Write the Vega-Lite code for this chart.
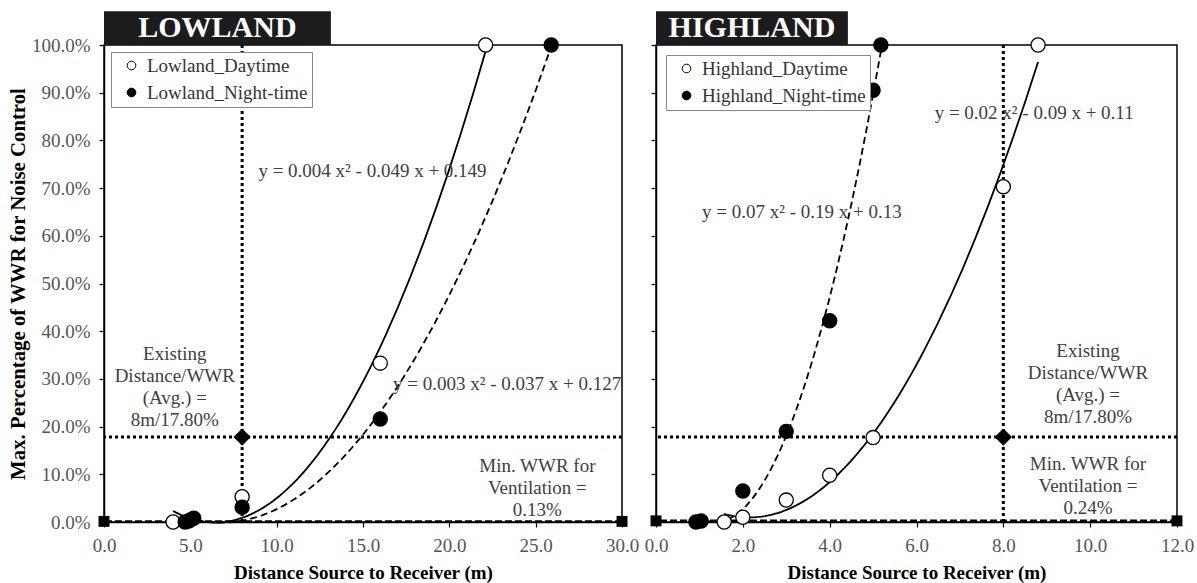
{
  "$schema": "https://vega.github.io/schema/vega-lite/v6.json",
  "background": "white",
  "padding": {"left": 6, "top": 10, "right": 5, "bottom": 5},
  "config": {
    "font": "Liberation Serif",
    "view": {"stroke": "#000", "strokeWidth": 1.5},
    "axis": {
      "labelFont": "Liberation Serif", "labelFontSize": 19, "labelColor": "#555", "labelFlush": false,
      "titleFont": "Liberation Serif", "titleFontSize": 19, "titleFontWeight": "bold", "titleColor": "#000",
      "domainColor": "#000", "domainWidth": 1.5, "tickColor": "#000", "tickWidth": 1.2, "tickSize": 5,
      "labelPadding": 9, "grid": false
    },
    "legend": {
      "labelFont": "Liberation Serif", "labelFontSize": 19, "labelColor": "#333", "labelLimit": 400,
      "strokeColor": "#888", "fillColor": "#fff", "padding": 4, "rowPadding": 7,
      "symbolOffset": 7, "labelOffset": 6,
      "symbolSize": 75, "symbolType": "circle", "symbolStrokeColor": "#000", "symbolStrokeWidth": 1
    }
  },
  "datasets": {
    "lowland": [
      {"x": 4.0, "y": 0.0, "series": "Lowland_Daytime"},
      {"x": 8.0, "y": 0.053, "series": "Lowland_Daytime"},
      {"x": 16.0, "y": 0.333, "series": "Lowland_Daytime"},
      {"x": 22.1, "y": 1.0, "series": "Lowland_Daytime"},
      {"x": 4.7, "y": 0.0, "series": "Lowland_Night-time"},
      {"x": 4.9, "y": 0.002, "series": "Lowland_Night-time"},
      {"x": 5.0, "y": 0.004, "series": "Lowland_Night-time"},
      {"x": 5.2, "y": 0.008, "series": "Lowland_Night-time"},
      {"x": 8.0, "y": 0.031, "series": "Lowland_Night-time"},
      {"x": 16.0, "y": 0.216, "series": "Lowland_Night-time"},
      {"x": 25.9, "y": 1.0, "series": "Lowland_Night-time"}
    ],
    "highland": [
      {"x": 1.57, "y": 0.0, "series": "Highland_Daytime"},
      {"x": 2.0, "y": 0.01, "series": "Highland_Daytime"},
      {"x": 3.0, "y": 0.046, "series": "Highland_Daytime"},
      {"x": 4.0, "y": 0.098, "series": "Highland_Daytime"},
      {"x": 5.0, "y": 0.177, "series": "Highland_Daytime"},
      {"x": 8.0, "y": 0.703, "series": "Highland_Daytime"},
      {"x": 8.8, "y": 1.0, "series": "Highland_Daytime"},
      {"x": 0.92, "y": 0.0, "series": "Highland_Night-time"},
      {"x": 1.04, "y": 0.002, "series": "Highland_Night-time"},
      {"x": 2.0, "y": 0.065, "series": "Highland_Night-time"},
      {"x": 3.0, "y": 0.19, "series": "Highland_Night-time"},
      {"x": 4.0, "y": 0.422, "series": "Highland_Night-time"},
      {"x": 5.0, "y": 0.905, "series": "Highland_Night-time"},
      {"x": 5.18, "y": 1.0, "series": "Highland_Night-time"}
    ],
    "lowlandNotes": [
      {"x": 4.1, "y": 0.352, "label": "Existing\nDistance/WWR\n(Avg.) =\n8m/17.80%"},
      {"x": 25.1, "y": 0.117, "label": "Min. WWR for\nVentilation =\n0.13%"},
      {"x": 15.55, "y": 0.736, "label": "y = 0.004 x² - 0.049 x + 0.149"},
      {"x": 23.35, "y": 0.289, "label": "y = 0.003 x² - 0.037 x + 0.127"}
    ],
    "highlandNotes": [
      {"x": 9.95, "y": 0.358, "label": "Existing\nDistance/WWR\n(Avg.) =\n8m/17.80%"},
      {"x": 9.95, "y": 0.122, "label": "Min. WWR for\nVentilation =\n0.24%"},
      {"x": 8.71, "y": 0.857, "label": "y = 0.02 x² - 0.09 x + 0.11"},
      {"x": 3.36, "y": 0.65, "label": "y = 0.07 x² - 0.19 x + 0.13"}
    ]
  },
  "spacing": 3,
  "resolve": {
    "scale": {"x": "independent", "y": "independent", "fill": "independent"},
    "legend": {"fill": "independent"}
  },
  "hconcat": [
    {
      "width": 518,
      "height": 477,
      "layer": [
        {
          "data": {"name": "lowland"},
          "mark": {"type": "point", "opacity": 0},
          "encoding": {
            "x": {"field": "x", "type": "quantitative",
              "scale": {"domain": [0, 30], "nice": false, "zero": false},
              "axis": {"title": "Distance Source to Receiver (m)", "values": [0, 5, 10, 15, 20, 25, 30], "format": ".1f", "titlePadding": 8}},
            "y": {"field": "y", "type": "quantitative",
              "scale": {"domain": [0, 1], "nice": false},
              "axis": {"title": "Max. Percentage of WWR for Noise Control", "titleFontSize": 20.8, "values": [0, 0.1, 0.2, 0.3, 0.4, 0.5, 0.6, 0.7, 0.8, 0.9, 1.0], "format": ".1%", "titlePadding": 3}}
          }
        },
        {
          "data": {"values": [{}]},
          "mark": {"type": "rect", "color": "#1c1c1c", "clip": false},
          "encoding": {
            "x": {"datum": 0, "type": "quantitative"},
            "x2": {"datum": 13.14},
            "y": {"datum": 1.0, "type": "quantitative"},
            "y2": {"datum": 1.071}
          }
        },
        {
          "data": {"values": [{}]},
          "mark": {"type": "text", "text": "LOWLAND", "color": "#fff", "fontSize": 30, "fontWeight": "bold", "font": "Liberation Serif", "clip": false},
          "encoding": {
            "x": {"datum": 6.57, "type": "quantitative"},
            "y": {"datum": 1.036, "type": "quantitative"}
          }
        },
        {
          "data": {"values": [{}]},
          "mark": {"type": "rule", "color": "#000", "strokeWidth": 3, "strokeDash": [3, 3]},
          "encoding": {"y": {"datum": 0.178, "type": "quantitative"}}
        },
        {
          "data": {"values": [{}]},
          "mark": {"type": "rule", "color": "#000", "strokeWidth": 3, "strokeDash": [3, 3]},
          "encoding": {"x": {"datum": 8, "type": "quantitative"}}
        },
        {
          "data": {"values": [{}]},
          "mark": {"type": "rule", "color": "#000", "strokeWidth": 2.5, "strokeDash": [7, 3]},
          "encoding": {"y": {"datum": 0.0013, "type": "quantitative"}}
        },
        {
          "data": {"values": [{"x": 0, "y": 0.0013}, {"x": 30, "y": 0.0013}]},
          "mark": {"type": "point", "shape": "square", "filled": true, "color": "#000", "size": 120, "opacity": 1, "clip": false},
          "encoding": {
            "x": {"field": "x", "type": "quantitative"},
            "y": {"field": "y", "type": "quantitative"}
          }
        },
        {
          "data": {"values": [{"x": 8, "y": 0.178}]},
          "mark": {"type": "point", "shape": "diamond", "filled": true, "color": "#000", "size": 300, "opacity": 1, "clip": false},
          "encoding": {
            "x": {"field": "x", "type": "quantitative"},
            "y": {"field": "y", "type": "quantitative"}
          }
        },
        {
          "data": {"name": "lowland"},
          "transform": [
            {"filter": {"field": "series", "equal": "Lowland_Daytime"}},
            {"regression": "y", "on": "x", "method": "poly", "order": 2}
          ],
          "mark": {"type": "line", "color": "#000", "strokeWidth": 1.8, "clip": false},
          "encoding": {
            "x": {"field": "x", "type": "quantitative"},
            "y": {"field": "y", "type": "quantitative"}
          }
        },
        {
          "data": {"name": "lowland"},
          "transform": [
            {"filter": {"field": "series", "equal": "Lowland_Night-time"}},
            {"regression": "y", "on": "x", "method": "poly", "order": 2}
          ],
          "mark": {"type": "line", "color": "#000", "strokeWidth": 1.8, "strokeDash": [7, 4], "clip": false},
          "encoding": {
            "x": {"field": "x", "type": "quantitative"},
            "y": {"field": "y", "type": "quantitative"}
          }
        },
        {
          "data": {"name": "lowland"},
          "mark": {"type": "point", "shape": "circle", "filled": true, "stroke": "#000", "strokeWidth": 1.3, "size": 200, "opacity": 1, "clip": false},
          "encoding": {
            "x": {"field": "x", "type": "quantitative"},
            "y": {"field": "y", "type": "quantitative"},
            "fill": {"field": "series", "type": "nominal",
              "scale": {"domain": ["Lowland_Daytime", "Lowland_Night-time"], "range": ["#fff", "#000"]},
              "legend": {"title": null, "orient": "top-left", "offset": 7, "direction": "vertical"}}
          }
        },
        {
          "data": {"name": "lowlandNotes"},
          "mark": {"type": "text", "font": "Liberation Serif", "fontSize": 19, "color": "#404040", "lineBreak": "\n", "lineHeight": 22, "align": "center", "baseline": "middle", "clip": false},
          "encoding": {
            "x": {"field": "x", "type": "quantitative"},
            "y": {"field": "y", "type": "quantitative"},
            "text": {"field": "label"}
          }
        }
      ]
    },
    {
      "width": 521,
      "height": 477,
      "layer": [
        {
          "data": {"name": "highland"},
          "mark": {"type": "point", "opacity": 0},
          "encoding": {
            "x": {"field": "x", "type": "quantitative",
              "scale": {"domain": [0, 12], "nice": false, "zero": false},
              "axis": {"title": "Distance Source to Receiver (m)", "values": [0, 2, 4, 6, 8, 10, 12], "format": ".1f", "titlePadding": 8}},
            "y": {"field": "y", "type": "quantitative",
              "scale": {"domain": [0, 1], "nice": false},
              "axis": {"title": null, "labels": false, "values": [0, 0.1, 0.2, 0.3, 0.4, 0.5, 0.6, 0.7, 0.8, 0.9, 1.0]}}
          }
        },
        {
          "data": {"values": [{}]},
          "mark": {"type": "rect", "color": "#1c1c1c", "clip": false},
          "encoding": {
            "x": {"datum": 0, "type": "quantitative"},
            "x2": {"datum": 4.42},
            "y": {"datum": 1.0, "type": "quantitative"},
            "y2": {"datum": 1.071}
          }
        },
        {
          "data": {"values": [{}]},
          "mark": {"type": "text", "text": "HIGHLAND", "color": "#fff", "fontSize": 30, "fontWeight": "bold", "font": "Liberation Serif", "clip": false},
          "encoding": {
            "x": {"datum": 2.21, "type": "quantitative"},
            "y": {"datum": 1.036, "type": "quantitative"}
          }
        },
        {
          "data": {"values": [{}]},
          "mark": {"type": "rule", "color": "#000", "strokeWidth": 3, "strokeDash": [3, 3]},
          "encoding": {"y": {"datum": 0.178, "type": "quantitative"}}
        },
        {
          "data": {"values": [{}]},
          "mark": {"type": "rule", "color": "#000", "strokeWidth": 3, "strokeDash": [3, 3]},
          "encoding": {"x": {"datum": 8, "type": "quantitative"}}
        },
        {
          "data": {"values": [{}]},
          "mark": {"type": "rule", "color": "#000", "strokeWidth": 2.5, "strokeDash": [7, 3]},
          "encoding": {"y": {"datum": 0.0024, "type": "quantitative"}}
        },
        {
          "data": {"values": [{"x": 0, "y": 0.0024}, {"x": 12, "y": 0.0024}]},
          "mark": {"type": "point", "shape": "square", "filled": true, "color": "#000", "size": 120, "opacity": 1, "clip": false},
          "encoding": {
            "x": {"field": "x", "type": "quantitative"},
            "y": {"field": "y", "type": "quantitative"}
          }
        },
        {
          "data": {"values": [{"x": 8, "y": 0.178}]},
          "mark": {"type": "point", "shape": "diamond", "filled": true, "color": "#000", "size": 300, "opacity": 1, "clip": false},
          "encoding": {
            "x": {"field": "x", "type": "quantitative"},
            "y": {"field": "y", "type": "quantitative"}
          }
        },
        {
          "data": {"name": "highland"},
          "transform": [
            {"filter": {"field": "series", "equal": "Highland_Daytime"}},
            {"regression": "y", "on": "x", "method": "poly", "order": 2}
          ],
          "mark": {"type": "line", "color": "#000", "strokeWidth": 1.8, "clip": false},
          "encoding": {
            "x": {"field": "x", "type": "quantitative"},
            "y": {"field": "y", "type": "quantitative"}
          }
        },
        {
          "data": {"name": "highland"},
          "transform": [
            {"filter": {"field": "series", "equal": "Highland_Night-time"}},
            {"regression": "y", "on": "x", "method": "poly", "order": 2}
          ],
          "mark": {"type": "line", "color": "#000", "strokeWidth": 1.8, "strokeDash": [7, 4], "clip": false},
          "encoding": {
            "x": {"field": "x", "type": "quantitative"},
            "y": {"field": "y", "type": "quantitative"}
          }
        },
        {
          "data": {"name": "highland"},
          "mark": {"type": "point", "shape": "circle", "filled": true, "stroke": "#000", "strokeWidth": 1.3, "size": 200, "opacity": 1, "clip": false},
          "encoding": {
            "x": {"field": "x", "type": "quantitative"},
            "y": {"field": "y", "type": "quantitative"},
            "fill": {"field": "series", "type": "nominal",
              "scale": {"domain": ["Highland_Daytime", "Highland_Night-time"], "range": ["#fff", "#000"]},
              "legend": {"title": null, "orient": "top-left", "offset": 10, "direction": "vertical"}}
          }
        },
        {
          "data": {"name": "highlandNotes"},
          "mark": {"type": "text", "font": "Liberation Serif", "fontSize": 19, "color": "#404040", "lineBreak": "\n", "lineHeight": 22, "align": "center", "baseline": "middle", "clip": false},
          "encoding": {
            "x": {"field": "x", "type": "quantitative"},
            "y": {"field": "y", "type": "quantitative"},
            "text": {"field": "label"}
          }
        }
      ]
    }
  ]
}
